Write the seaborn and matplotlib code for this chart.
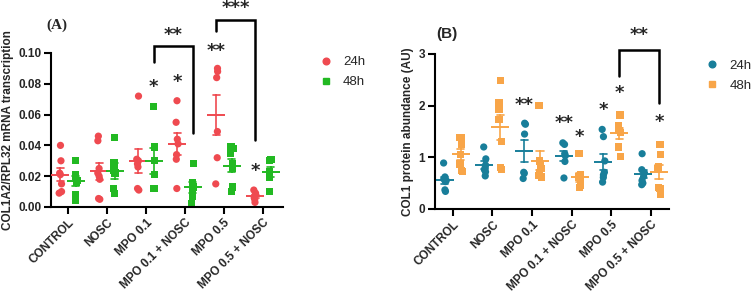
import numpy as np
import pandas as pd
import matplotlib
matplotlib.use("Agg")
import matplotlib.pyplot as plt
from matplotlib.lines import Line2D
import seaborn as sns

categories = ["CONTROL", "NOSC", "MPO 0.1", "MPO 0.1 + NOSC", "MPO 0.5", "MPO 0.5 + NOSC"]
times = ["24h", "48h"]

# Panel A: COL1A2/RPL32 mRNA transcription
a_24h = [
    [0.040, 0.030, 0.022, 0.021, 0.015, 0.010, 0.009],
    [0.046, 0.043, 0.025, 0.022, 0.020, 0.018, 0.0055, 0.005],
    [0.072, 0.031, 0.030, 0.028, 0.026, 0.012, 0.011],
    [0.069, 0.055, 0.044, 0.041, 0.034, 0.031, 0.012],
    [0.090, 0.088, 0.084, 0.049, 0.032, 0.015],
    [0.011, 0.009, 0.008, 0.007, 0.006, 0.005, 0.003],
]
a_48h = [
    [0.030, 0.021, 0.020, 0.017, 0.016, 0.008, 0.004],
    [0.045, 0.029, 0.024, 0.022, 0.012, 0.009],
    [0.065, 0.039, 0.030, 0.021, 0.012, 0.012],
    [0.028, 0.016, 0.013, 0.010, 0.007, 0.002],
    [0.039, 0.038, 0.035, 0.028, 0.025, 0.013, 0.010],
    [0.031, 0.030, 0.023, 0.022, 0.019, 0.010],
]
# Panel B: COL1 protein abundance (AU)
b_24h = [
    [0.89, 0.62, 0.58, 0.55, 0.53, 0.37, 0.34],
    [1.20, 0.97, 0.85, 0.80, 0.76, 0.72, 0.64],
    [1.66, 1.64, 1.45, 0.71, 0.69, 0.59],
    [1.28, 1.25, 1.07, 1.03, 0.92, 0.60],
    [1.54, 1.40, 0.93, 0.71, 0.66, 0.61, 0.52],
    [1.07, 0.76, 0.70, 0.63, 0.55, 0.50, 0.47],
]
b_48h = [
    [1.39, 1.38, 1.25, 1.05, 0.87, 0.75, 0.72],
    [2.48, 2.05, 1.93, 1.73, 1.30, 0.80, 0.77],
    [2.00, 0.93, 0.85, 0.78, 0.70, 0.65, 0.62],
    [1.08, 0.66, 0.62, 0.56, 0.50, 0.45, 0.42],
    [1.82, 1.62, 1.58, 1.52, 1.48, 1.20, 1.01],
    [1.25, 1.05, 0.82, 0.78, 0.42, 0.40, 0.29],
]

# significance annotations: (category index, time, y, text)
a_stars = [(2, "48h", 0.078, "*"), (3, "24h", 0.081, "*"), (4, "24h", 0.1015, "**"), (5, "24h", 0.0236, "*")]
b_stars = [(2, "24h", 2.01, "**"), (3, "24h", 1.66, "**"), (3, "48h", 1.39, "*"),
           (4, "24h", 1.92, "*"), (4, "48h", 2.25, "*"), (5, "48h", 1.69, "*")]
# brackets: (cat1, time1, y_left, cat2, time2, y_right, y_top, text)
a_brackets = [(2, "48h", 0.0943, 3, "48h", 0.0483, 0.1047, "**"),
              (4, "24h", 0.114, 5, "24h", 0.0437, 0.1217, "***")]
b_brackets = [(4, "48h", 2.57, 5, "48h", 2.05, 3.07, "**")]

a_colors = {"24h": "#EF4A50", "48h": "#22B922"}
b_colors = {"24h": "#187E9A", "48h": "#F8A548"}
markers = {"24h": "o", "48h": "s"}


def make_df(v24, v48, name):
    rows = []
    for t, vals in (("24h", v24), ("48h", v48)):
        for c, lst in zip(categories, vals):
            for v in lst:
                rows.append({"Group": c, "Time": t, name: v})
    return pd.DataFrame(rows)


dfA = make_df(a_24h, a_48h, "val")
dfB = make_df(b_24h, b_48h, "val")

sns.set_theme(style="ticks")
plt.rcParams["font.family"] = ["Liberation Sans", "DejaVu Sans"]
np.random.seed(3)

fig = plt.figure(figsize=(7.55, 2.96), dpi=100)
axA = fig.add_axes([0.0675, 0.3007, 0.307, 0.5203])
axB = fig.add_axes([0.576, 0.294, 0.310, 0.5236])

off = {"24h": -0.2, "48h": 0.2}


def draw(ax, df, colors, leg_xy):
    for t in times:
        sub = df[df["Time"] == t]
        sns.stripplot(data=sub, x="Group", y="val", hue="Time", hue_order=times,
                      order=categories, dodge=True, jitter=0.08, palette=colors,
                      marker=markers[t], size=5.2, linewidth=0, ax=ax, legend=False)
    sns.pointplot(data=df, x="Group", y="val", hue="Time", hue_order=times, order=categories,
                  dodge=0.4, palette=colors, errorbar="se", capsize=0.18,
                  markers="_", linestyle="none", markersize=13, markeredgewidth=1.4,
                  err_kws={"linewidth": 1.2}, ax=ax, legend=False)
    for c in ax.collections:
        c.set_zorder(2)
    for l in ax.lines:
        l.set_zorder(3)
    sns.despine(ax=ax)
    for s in ("left", "bottom"):
        ax.spines[s].set_linewidth(1.5)
        ax.spines[s].set_color("black")
    ax.tick_params(axis="both", width=1.5, length=5, color="black", labelsize=8.5, pad=2)
    ax.set_xticks(range(len(categories)))
    ax.set_xticklabels(categories, rotation=45, ha="right", rotation_mode="anchor",
                       fontweight="bold")
    ax.set_xlabel("")
    h = [Line2D([], [], marker=markers[t], color=colors[t], linestyle="none", markersize=4.8)
         for t in times]
    ax.legend(h, times, loc="upper left", bbox_to_anchor=leg_xy, frameon=False,
              fontsize=9.5, handletextpad=0.8, labelspacing=0.6, handlelength=1.0,
              borderpad=0, borderaxespad=0)


def star_text(ax, i, t, y, s, size=13):
    ax.text(i + off[t], y, s, ha="center", va="center", fontsize=size, fontweight="bold",
            clip_on=False, family="DejaVu Sans")


def bracket(ax, b, lw=1.8):
    i1, t1, yl, i2, t2, yr, yt, s = b
    x1, x2 = i1 + off[t1], i2 + off[t2]
    ax.plot([x1, x1, x2, x2], [yl, yt, yt, yr], color="black", lw=lw, clip_on=False,
            solid_joinstyle="miter")
    return (x1 + x2) / 2


draw(axA, dfA, a_colors, (1.157, 0.98))
axA.set_xlim(-0.44, 5.51)
axA.set_ylim(0, 0.10)
axA.set_yticks([0.00, 0.02, 0.04, 0.06, 0.08, 0.10])
axA.set_yticklabels(["0.00", "0.02", "0.04", "0.06", "0.08", "0.10"], fontweight="bold")
axA.set_ylabel("COL1A2/RPL32 mRNA transcription", fontsize=8.5, fontweight="bold", labelpad=3)
for st in a_stars:
    star_text(axA, *st)
for b, ys in zip(a_brackets, [0.1115, 0.129]):
    xm = bracket(axA, b)
    axA.text(xm, ys, b[-1], ha="center", va="center", fontsize=13, fontweight="bold",
             clip_on=False, family="DejaVu Sans")
fig.text(0.062, 0.915, "(A)", fontsize=11, fontweight="bold", family="Liberation Serif",
         ha="left", va="center")

draw(axB, dfB, b_colors, (1.156, 0.965))
axB.set_xlim(-0.45, 5.45)
axB.set_ylim(0, 3)
axB.set_yticks([0, 1, 2, 3])
axB.set_yticklabels(["0", "1", "2", "3"], fontweight="bold")
axB.set_ylabel("COL1 protein abundance (AU)", fontsize=8.5, fontweight="bold", labelpad=3)
for st in b_stars:
    star_text(axB, *st)
for b in b_brackets:
    xm = bracket(axB, b)
    axB.text(xm, 3.37, b[-1], ha="center", va="center", fontsize=13, fontweight="bold",
             clip_on=False, family="DejaVu Sans")
fig.text(0.578, 0.885, "(B)", fontsize=11, fontweight="bold", family="Liberation Sans",
         ha="left", va="center")

fig.savefig("out.png", dpi=100)
